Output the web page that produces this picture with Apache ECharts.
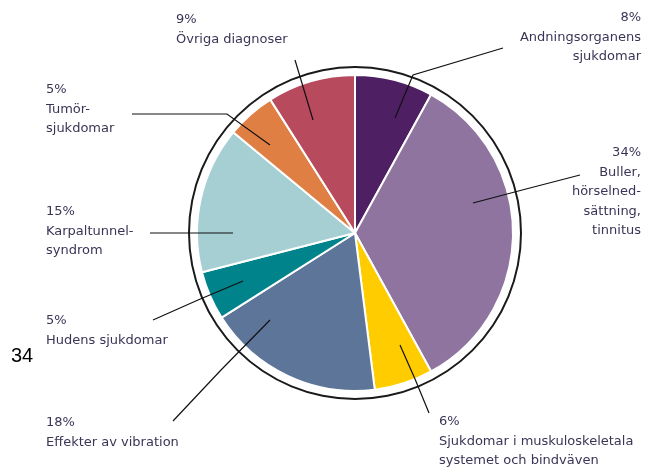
<!DOCTYPE html>
<html>
<head>
<meta charset="utf-8">
<script src="https://cdn.jsdelivr.net/npm/echarts@6/dist/echarts.min.js"></script>
<style>
  html, body { margin: 0; padding: 0; background: #fff; }
  #chart { width: 647px; height: 468px; }
</style>
</head>
<body>
<div id="chart"></div>
<script>
// data, clockwise from 12 o'clock
var categories = [
    'Andningsorganens\nsjukdomar',
    'Buller,\nhörselned-\nsättning,\ntinnitus',
    'Sjukdomar i muskuloskeletala\nsystemet och bindväven',
    'Effekter av vibration',
    'Hudens sjukdomar',
    'Karpaltunnel-\nsyndrom',
    'Tumör-\nsjukdomar',
    'Övriga diagnoser'
];
var values = [8, 34, 6, 18, 5, 15, 5, 9];
var colors = ['#4f1f63', '#8f74a0', '#ffcc00', '#5d7599', '#00838b', '#a6cfd4', '#e07f44', '#b84a5e'];
var pageNumber = '34';

// where each label sits and how its leader line runs (slice end first)
var labelPlace = [
    {x: 641, y: 8, align: 'right', line: [[395, 118], [413, 75], [503, 48]]},
    {x: 641, y: 143, align: 'right', line: [[473, 203], [526, 189], [580, 175]]},
    {x: 439, y: 412, align: 'left', line: [[400, 345], [415, 379], [429, 413]]},
    {x: 46, y: 413, align: 'left', line: [[270, 320], [221, 370], [173, 421]]},
    {x: 46, y: 311, align: 'left', line: [[243, 281], [198, 300], [153, 320]]},
    {x: 46, y: 202, align: 'left', line: [[233, 233], [190, 233], [150, 233]]},
    {x: 46, y: 80, align: 'left', line: [[270, 145], [227, 114], [132, 114]]},
    {x: 176, y: 10, align: 'left', line: [[313, 120], [304, 90], [295, 60]]}
];

var myChart = echarts.init(document.getElementById('chart'));

var pieData = values.map(function (v, i) {
    return {value: v, name: categories[i], itemStyle: {color: colors[i]}};
});

var option = {
    animation: false,
    graphic: [{
        type: 'text',
        left: 11,
        top: 346,
        style: {text: pageNumber, font: '20px "Liberation Sans", Arial, sans-serif', fill: '#000'}
    }],
    series: [
        {
            // thin outer ring
            type: 'pie',
            silent: true,
            center: [355, 233],
            radius: [165, 167],
            label: {show: false},
            labelLine: {show: false},
            itemStyle: {color: '#1a1a1a'},
            data: [{value: 1}]
        },
        {
            type: 'pie',
            center: [355, 233],
            radius: [0, 158],
            startAngle: 90,
            clockwise: true,
            itemStyle: {borderColor: '#fff', borderWidth: 2},
            label: {show: false},
            labelLine: {show: false},
            data: pieData
        },
        {
            // same slices, see-through, only to carry the labels above the pie
            type: 'pie',
            z: 5,
            silent: true,
            center: [355, 233],
            radius: [0, 158],
            startAngle: 90,
            clockwise: true,
            itemStyle: {color: 'rgba(0,0,0,0)'},
            label: {
                show: true,
                position: 'outside',
                overflow: 'none',
                formatter: function (p) {
                    return p.value + '%\n' + p.name;
                },
                fontFamily: '"DejaVu Sans", sans-serif',
                fontSize: 13,
                lineHeight: 19.5,
                color: '#3a3556'
            },
            labelLine: {
                show: true,
                lineStyle: {color: '#111', width: 1.2}
            },
            labelLayout: function (params) {
                var p = labelPlace[params.dataIndex];
                return {
                    x: p.x,
                    y: p.y,
                    width: 260,
                    align: p.align,
                    verticalAlign: 'top',
                    labelLinePoints: p.line
                };
            },
            data: values.map(function (v, i) {
                return {value: v, name: categories[i]};
            })
        }
    ]
};

myChart.setOption(option);
</script>
</body>
</html>
